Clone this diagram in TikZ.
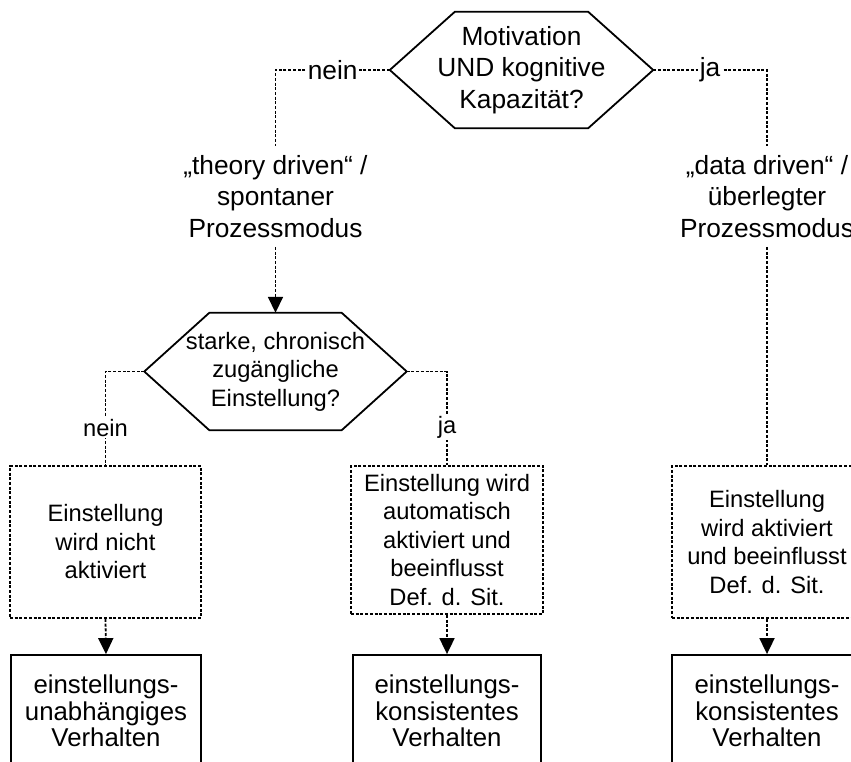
\documentclass[tikz,border=0pt]{standalone}
\usepackage{fontspec}
\setmainfont{Liberation Sans}
\usetikzlibrary{arrows.meta}
% outline of a decision node: a flat hexagon inside the node's rectangle
\newcommand\hexoutline[1]{%
  \draw[solidline] (#1.west) -- ([xshift=65pt]#1.north west) -- ([xshift=-65pt]#1.north east)
    -- (#1.east) -- ([xshift=-65pt]#1.south east) -- ([xshift=65pt]#1.south west) -- cycle;}
\begin{document}
\begin{tikzpicture}[x=1pt,y=-1pt,
  solidline/.style={line width=1.8pt},
  dotline/.style={line width=1.8pt, dash pattern=on 3pt off 1.7pt},
  arrowline/.style={dotline, -{Triangle[width=15pt,length=16pt]}},
  big/.style={font=\fontsize{26.3}{31.5}\selectfont},
  mid/.style={font=\fontsize{23.7}{28.5}\selectfont},
  tight/.style={font=\fontsize{25.8}{26.5}\selectfont},
  decision/.style={inner sep=0pt, align=center, minimum width=263pt, minimum height=116pt},
  modetext/.style={big, align=center, inner sep=9pt},
  dotbox/.style={dotline, draw, mid, align=center, inner sep=0pt},
  resultbox/.style={solidline, draw, tight, align=center, inner sep=0pt},
  branchlabel/.style={fill=white, inner sep=1.5pt}
]
\clip (0,0) rectangle (851,762);

% first decision
\node[decision, big] (q1) at (521.5,70) {Motivation\\UND kognitive\\Kapazität?};
\hexoutline{q1}

% processing modes
\node[modetext] (t1) at (275.5,196.5) {„theory driven“ /\\spontaner\\Prozessmodus};
\node[modetext] (t2) at (767,196.5) {„data driven“ /\\überlegter\\Prozessmodus};

% second decision
\node[decision, mid, minimum width=262pt, minimum height=117pt] (q2) at (275.5,371.5)
  {starke, chronisch\\zugängliche\\Einstellung?};
\hexoutline{q2}

% activation boxes
\node[dotbox, minimum width=191pt, minimum height=152pt] (b1) at (105.5,542)
  {Einstellung\\wird nicht\\aktiviert};
\node[dotbox, minimum width=192pt, minimum height=148pt] (b2) at (447,540)
  {Einstellung wird\\automatisch\\aktiviert und\\beeinflusst\\Def. d. Sit.};
\node[dotbox, minimum width=190pt, minimum height=152pt] (b3) at (767,542)
  {Einstellung\\wird aktiviert\\und beeinflusst\\Def. d. Sit.};

% behaviour boxes
\node[resultbox, minimum width=190pt, minimum height=112pt] (s1) at (106,711)
  {einstellungs-\\unabhängiges\\Verhalten};
\node[resultbox, minimum width=188pt, minimum height=112pt] (s2) at (447,711)
  {einstellungs-\\konsistentes\\Verhalten};
\node[resultbox, minimum width=190pt, minimum height=112pt] (s3) at (767,711)
  {einstellungs-\\konsistentes\\Verhalten};

% connectors
\draw[dotline] (q1.west) -| node[pos=0.25, branchlabel, big] {nein} (t1.north);
\draw[dotline] (q1.east) -| node[pos=0.25, branchlabel, big] {ja} (t2.north);
\draw[arrowline] (t1.south) -- (q2.north);
\draw[dotline] (t2.south) -- (b3.north);
\draw[dotline] (q2.west) -| node[pos=0.8, branchlabel, mid] {nein} (b1.north);
\draw[dotline] (q2.east) -| node[pos=0.8, branchlabel, mid] {ja} (b2.north);
\draw[arrowline] (b1.south) -- (s1.north);
\draw[arrowline] (b2.south) -- (s2.north);
\draw[arrowline] (b3.south) -- (s3.north);
\end{tikzpicture}
\end{document}
